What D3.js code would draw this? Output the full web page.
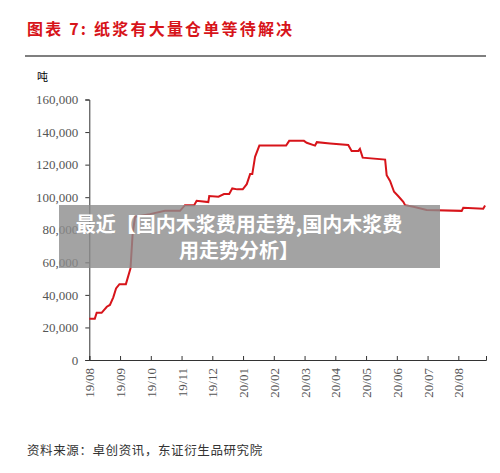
<!DOCTYPE html>
<html><head><meta charset="utf-8">
<script src="https://cdn.jsdelivr.net/npm/d3@7"></script>
<style>body{margin:0;background:#fff}</style>
</head><body>
<div id="chart"></div>
<script>
// month index from 19/08 and stock in tons
const months = [0,0.18,0.24,0.4,0.57,0.67,0.78,0.87,0.98,1.19,1.34,1.41,1.49,1.97,2.46,2.95,3.11,3.41,3.49,3.87,3.9,4.2,4.38,4.55,4.65,4.81,4.99,5.12,5.23,5.3,5.39,5.53,6.4,6.5,6.98,7.07,7.34,7.4,7.83,8.42,8.53,8.75,8.8,8.89,9.62,9.67,9.78,9.91,10.05,10.21,10.27,10.54,10.97,12.11,12.16,12.81,12.87];
const tons = [25400,25400,29000,29000,32700,33800,38500,44000,46600,46600,56300,77700,88000,89600,91600,91600,95100,95100,97800,97000,100700,100300,101900,101900,105400,104800,104800,108000,114200,114200,124800,131700,131700,134600,134600,133400,131700,133800,133000,132100,128400,128400,129700,124300,123100,113500,110000,103300,100600,97200,95100,94100,92100,91600,93500,92900,94900];
const tickLabels = ["19/08","19/09","19/10","19/11","19/12","20/01","20/02","20/03","20/04","20/05","20/06","20/07","20/08"];
const yTicks = [0,20000,40000,60000,80000,100000,120000,140000,160000];

const width = 500, height = 473;
const svg = d3.select("#chart").append("svg").attr("width", width).attr("height", height);
const cjk = "'Noto Sans CJK SC', sans-serif";
const serif = "'Liberation Serif', 'DejaVu Serif', serif";

svg.append("text").attr("x", 27).attr("y", 35)
   .attr("fill", "#d7141a").attr("font-family", cjk).attr("font-weight", "bold")
   .attr("font-size", 16).attr("letter-spacing", 2.2).text("图表 7:  纸浆有大量仓单等待解决");
svg.append("line").attr("x1", 25).attr("x2", 486).attr("y1", 56).attr("y2", 56)
   .attr("stroke", "#000").attr("stroke-width", 1.2);

const x = d3.scaleLinear().domain([0, 12.9]).range([89.3, 486]);
const y = d3.scaleLinear().domain([0, 160000]).range([360, 99.5]);

const yAxis = svg.append("g").attr("transform", "translate(89.3,0)")
   .call(d3.axisLeft(y).tickValues(yTicks).tickSize(4).tickFormat(d3.format(",")));
yAxis.selectAll("text").attr("font-family", serif).attr("font-size", 13).attr("fill", "#555").attr("dx", -4);

const xAxis = svg.append("g").attr("transform", "translate(0,360)")
   .call(d3.axisBottom(x).tickValues(d3.range(13)).tickSize(-4).tickFormat((d, i) => tickLabels[i]));
xAxis.selectAll("text").attr("font-family", serif).attr("font-size", 13).attr("fill", "#555")
   .attr("transform", "rotate(-90)").attr("text-anchor", "end").attr("x", -8).attr("y", 0).attr("dy", "0.35em");
svg.selectAll(".domain, .tick line").attr("stroke", "#333");

svg.append("text").attr("x", 37).attr("y", 81).attr("font-family", cjk).attr("font-size", 11).text("吨");

svg.append("path").datum(months.map((m, i) => [m, tons[i]]))
   .attr("fill", "none").attr("stroke", "#d7141a").attr("stroke-width", 2)
   .attr("d", d3.line().x(d => x(d[0])).y(d => y(d[1])));

svg.append("text").attr("x", 27).attr("y", 455).attr("font-family", cjk).attr("font-size", 12.5)
   .attr("fill", "#333").attr("letter-spacing", 0.6).text("资料来源：卓创资讯，东证衍生品研究院");

// overlay caption
svg.append("rect").attr("x", 59).attr("y", 205).attr("width", 381).attr("height", 63)
   .attr("fill", "#8c8c8c").attr("opacity", 0.8);
const cap = svg.append("text").attr("font-family", cjk).attr("font-weight", "bold")
   .attr("font-size", 20).attr("fill", "#fff").attr("text-anchor", "middle");
cap.append("tspan").attr("x", 239).attr("y", 232).text("最近【国内木浆费用走势,国内木浆费");
cap.append("tspan").attr("x", 239).attr("y", 258).text("用走势分析】");
</script>
</body></html>
